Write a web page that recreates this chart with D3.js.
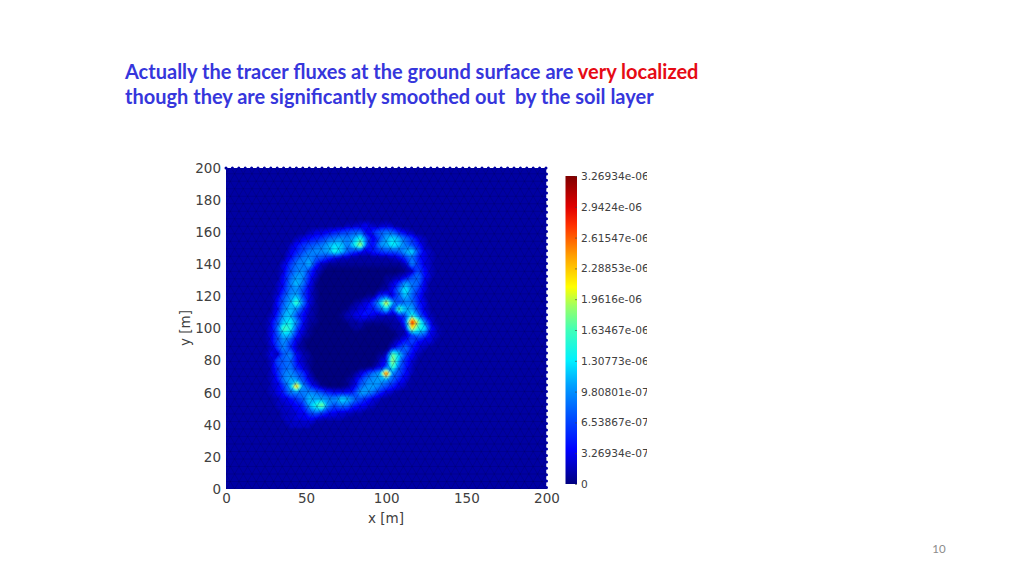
<!DOCTYPE html>
<html>
<head>
<meta charset="utf-8">
<script src="https://cdn.jsdelivr.net/npm/d3@7"></script>
<style>
  html, body { margin: 0; padding: 0; background: #fff; }
  svg { display: block; }
  text { font-family: "DejaVu Sans", sans-serif; }
</style>
</head>
<body>
<svg id="chart" width="1024" height="576"></svg>
<script>
var titleLine1 = "Actually the tracer fluxes at the ground surface are ";
var titleLine1Red = "very localized";
var titleLine2 = "though they are significantly smoothed out  by the soil layer";
var pageNumber = "10";

var xTicks = [0, 50, 100, 150, 200];
var yTicks = [0, 20, 40, 60, 80, 100, 120, 140, 160, 180, 200];
var barTicks = [0, 3.26934e-7, 6.53867e-7, 9.80801e-7, 1.30773e-6, 1.63467e-6, 1.96160e-6, 2.28853e-6, 2.61547e-6, 2.94240e-6, 3.26934e-6];
var barLabels = ["0", "3.26934e-07", "6.53867e-07", "9.80801e-07", "1.30773e-06", "1.63467e-06", "1.9616e-06", "2.28853e-06", "2.61547e-06", "2.9424e-06", "3.26934e-06"];
var jetColors = ["#00007f", "#0000ff", "#0050ff", "#00a0ff", "#00f0ff", "#40ffb8", "#a0ff60", "#ffff00", "#ffa000", "#ff3000", "#e00000", "#7f0000"];
var jetStops = [0, 0.11, 0.22, 0.32, 0.4, 0.5, 0.58, 0.64, 0.74, 0.84, 0.9, 1];

// flux, in 1e-7 units (one base 36 digit per cell)
// columns are x = 24, 28 ... 136, rows are y = 168, 164 ... 40
var gridX0 = 24, gridY0 = 168, gridStep = 4;
var fluxRows = [
  "11111 11111 11111 11111 12111 1111",
  "11111 11111 11122 34223 21111 1111",
  "11111 11233 45678 83689 85321 1111",
  "11111 23456 89a9b f737b db863 2111",
  "11112 46789 bdc9e k64ab ec975 2111",
  "11113 579aa bfc86 43567 78bd7 3211",
  "11114 79a87 53221 11111 23695 3211",
  "11136 99c52 11111 11111 112a6 3211",
  "11137 9a631 00000 00000 00127 4211",
  "11148 ba520 00000 00001 12379 4211",
  "11249 c9410 00000 00001 36b98 3111",
  "11259 a7310 00000 00011 49e96 3111",
  "1137a c7310 00000 01167 38c85 2111",
  "1148b h9310 00001 236cm b7995 3111",
  "1149c a6210 00012 3458d 5icb6 3111",
  "125bc 74210 00123 44322 247f9 4211",
  "137ce a4110 00011 21111 126vi 9311",
  "138hf 73100 00001 10000 113mf d421",
  "137cb 52100 00000 00000 01269 7321",
  "137a7 31000 00000 00000 13574 3311",
  "126a6 21000 00000 00000 36953 2111",
  "1428a 42100 00000 00012 id742 1111",
  "12789 42100 00000 00024 ka531 1111",
  "12689 53100 00000 00136 h8521 1111",
  "1259a 86200 00001 369bu 97421 1111",
  "1249b a7310 00012 69aba 85311 1111",
  "1236b pa631 00013 8ab97 53211 1111",
  "12359 99a97 54446 ba853 21111 1111",
  "11234 68cbb aadc9 75321 11111 1111",
  "11223 45bfj 97985 43211 11111 1111",
  "11122 34797 54332 21111 11111 1111",
  "11122 33432 22211 11111 11111 1111",
  "11112 22211 11111 11111 11111 1111"
];

var svg = d3.select("#chart");
var plotLeft = 226, plotRight = 546.5, plotTop = 168, plotBottom = 489;

var x = d3.scaleLinear().domain([0, 200]).range([plotLeft, plotRight]);
var y = d3.scaleLinear().domain([0, 200]).range([plotBottom, plotTop]);
var bar = d3.scaleLinear().domain([0, 3.26934e-6]).range([484, 176]);
var jet = d3.scaleLinear()
  .domain(jetStops.map(function(s) { return s * 3.26934e-6; }))
  .range(jetColors);

// title
var title = svg.append("g").style("font-weight", "bold");
var t1 = title.append("text").attr("x", 125).attr("y", 79)
  .style("font-family", "Lato, sans-serif").style("font-size", "20px").attr("fill", "#3636dc")
  .attr("xml:space", "preserve");
t1.append("tspan").text(titleLine1);
t1.append("tspan").attr("fill", "#e60a14").text(titleLine1Red);
title.append("text").attr("x", 125).attr("y", 104)
  .style("font-family", "Lato, sans-serif").style("font-size", "20px").attr("fill", "#3636dc")
  .attr("xml:space", "preserve")
  .text(titleLine2);

// flux field
var defs = svg.append("defs");
defs.append("clipPath").attr("id", "plotClip").append("rect")
  .attr("x", plotLeft).attr("y", plotTop)
  .attr("width", plotRight - plotLeft).attr("height", plotBottom - plotTop);
defs.append("filter").attr("id", "soften")
  .attr("x", "-5%").attr("y", "-5%").attr("width", "110%").attr("height", "110%")
  .append("feGaussianBlur").attr("stdDeviation", 1.1);

var plot = svg.append("g").attr("clip-path", "url(#plotClip)");
plot.append("rect")
  .attr("x", plotLeft).attr("y", plotTop)
  .attr("width", plotRight - plotLeft).attr("height", plotBottom - plotTop)
  .attr("fill", jet(1e-7));

var cleanRows = fluxRows.map(function(row) { return row.replace(/ /g, ""); });
var nCols = cleanRows[0].length, nRows = cleanRows.length;
var values = [];
cleanRows.forEach(function(row) {
  for (var i = 0; i < nCols; i++) values.push(parseInt(row[i], 36));
});

var contours = d3.contours().size([nCols, nRows]).smooth(true)
  .thresholds(d3.range(0, 32, 0.5))(values);

// contour coordinates run in grid cells, cell centres sit at i + 0.5
var gridPath = d3.geoPath(d3.geoTransform({
  point: function(cx, cy) {
    this.stream.point(x(gridX0 + (cx - 0.5) * gridStep), y(gridY0 - (cy - 0.5) * gridStep));
  }
}));

plot.append("g").attr("filter", "url(#soften)")
  .selectAll("path")
  .data(contours)
  .join("path")
  .attr("d", gridPath)
  .attr("fill", function(d) { return jet(d.value * 1e-7); });

// triangular mesh on top of the field
var meshStep = 5.4;
var meshPath = d3.path();
var rowHeight = meshStep * Math.sqrt(3) / 2;
d3.range(-2, 200 / rowHeight + 2).forEach(function(r) {
  var yy = r * rowHeight;
  meshPath.moveTo(x(0), y(yy));
  meshPath.lineTo(x(200), y(yy));
  d3.range(-2, 40).forEach(function(k) {
    var x0 = k * meshStep + (r % 2 ? meshStep / 2 : 0);
    meshPath.moveTo(x(x0), y(yy));
    meshPath.lineTo(x(x0 + meshStep / 2), y(yy + rowHeight));
    meshPath.moveTo(x(x0 + meshStep), y(yy));
    meshPath.lineTo(x(x0 + meshStep / 2), y(yy + rowHeight));
  });
});
plot.append("path")
  .attr("d", meshPath.toString())
  .attr("fill", "none")
  .attr("stroke", "#000050")
  .attr("stroke-width", 0.6)
  .attr("opacity", 0.4);

// scalloped mesh edge along top and right
svg.append("path")
  .attr("d", "M" + plotLeft + "," + plotTop + "L" + plotRight + "," + plotTop + "L" + plotRight + "," + plotBottom)
  .attr("fill", "none")
  .attr("stroke", jet(1e-7))
  .attr("stroke-width", 3)
  .attr("stroke-linecap", "round")
  .attr("stroke-dasharray", "0 6.4");

// axes
var xAxis = svg.append("g").attr("transform", "translate(0," + plotBottom + ")")
  .call(d3.axisBottom(x).tickValues(xTicks).tickSize(0).tickPadding(4));
var yAxis = svg.append("g").attr("transform", "translate(" + plotLeft + ",0)")
  .call(d3.axisLeft(y).tickValues(yTicks).tickSize(0).tickPadding(5));
[xAxis, yAxis].forEach(function(a) {
  a.select(".domain").remove();
  a.selectAll("text").style("font-family", '"DejaVu Sans", sans-serif').style("font-size", "13.5px").attr("fill", "#404040");
});

svg.append("text").attr("x", 386).attr("y", 523).attr("text-anchor", "middle")
  .style("font-size", "13.5px").attr("fill", "#404040").text("x [m]");
svg.append("text").attr("transform", "translate(190,328) rotate(-90)").attr("text-anchor", "middle")
  .style("font-size", "13.5px").attr("fill", "#404040").text("y [m]");

// colour bar
var grad = defs.append("linearGradient").attr("id", "jetGrad")
  .attr("x1", 0).attr("y1", 1).attr("x2", 0).attr("y2", 0);
grad.selectAll("stop").data(jetStops).join("stop")
  .attr("offset", function(d) { return d; })
  .attr("stop-color", function(d, i) { return jetColors[i]; });

svg.append("rect").attr("x", 565.5).attr("y", bar.range()[1])
  .attr("width", 11.5).attr("height", bar.range()[0] - bar.range()[1])
  .attr("fill", "url(#jetGrad)");

var barAxis = svg.append("g").attr("transform", "translate(577,0)")
  .call(d3.axisRight(bar).tickValues(barTicks).tickSize(-2)
    .tickFormat(function(d, i) { return barLabels[i]; }));
barAxis.select(".domain").remove();
barAxis.selectAll("line").attr("stroke", "#404040").attr("stroke-width", 0.6);
barAxis.selectAll("text")
  .attr("x", 4)
  .style("font-family", '"DejaVu Sans", sans-serif').style("font-size", "10.6px").attr("fill", "#404040");

// the labels are cut off on the right in the original
svg.append("rect").attr("x", 647).attr("y", 165).attr("width", 40).attr("height", 330).attr("fill", "#fff");

svg.append("text").attr("x", 939).attr("y", 553).attr("text-anchor", "middle")
  .style("font-family", "Lato, sans-serif").style("font-size", "11.5px").attr("fill", "#8c8c8c").text(pageNumber);
</script>
</body>
</html>
